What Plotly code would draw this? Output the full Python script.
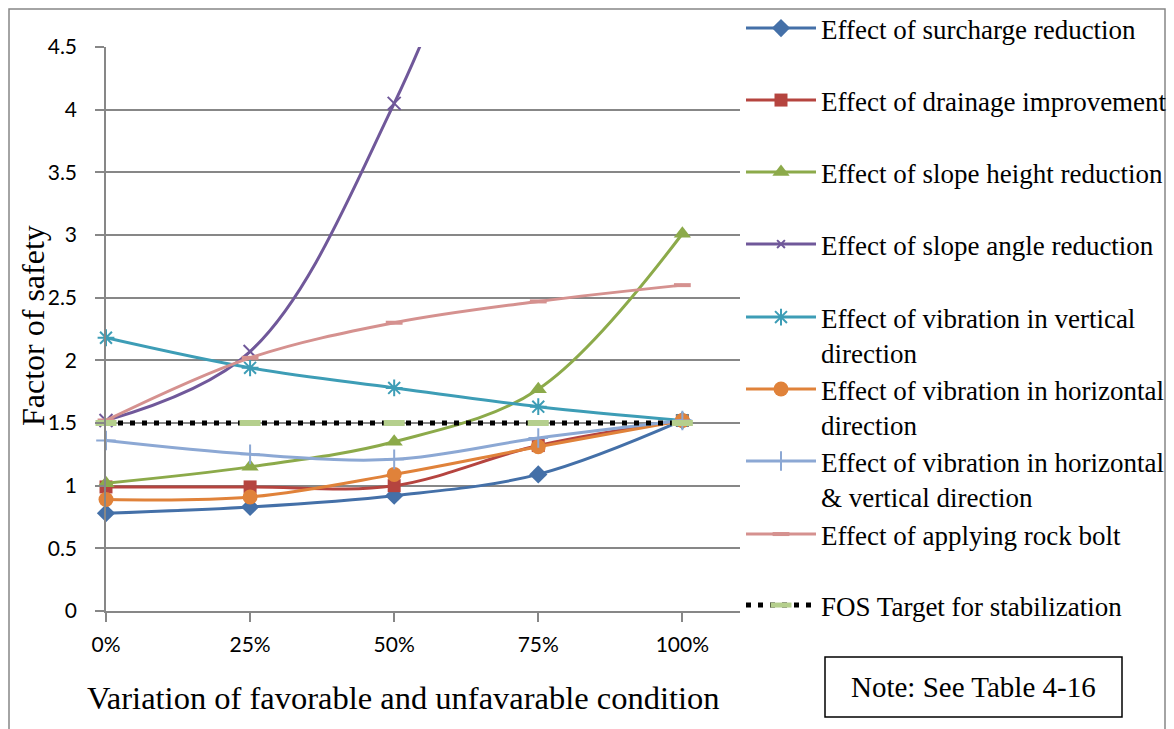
import plotly.graph_objects as go

# Variation levels (x) and factor of safety for each remedial measure
variation = [0, 25, 50, 75, 100]
variation_labels = ["0%", "25%", "50%", "75%", "100%"]

surcharge = [0.78, 0.83, 0.92, 1.09, 1.52]
drainage = [0.99, 0.99, 1.00, 1.32, 1.52]
slope_height = [1.02, 1.15, 1.35, 1.77, 3.01]
slope_angle = [1.52, 2.07, 4.05, 7.00, 10.00]
vib_vertical = [2.18, 1.94, 1.78, 1.63, 1.52]
vib_horizontal = [0.89, 0.91, 1.09, 1.31, 1.52]
vib_both = [1.36, 1.25, 1.21, 1.38, 1.52]
rock_bolt = [1.52, 2.02, 2.30, 2.47, 2.60]
fos_target = [1.5, 1.5, 1.5, 1.5, 1.5]

Y_MAX = 4.5
W, H = 1174, 729
L, R, T, B = 106, 740, 47, 611  # plot area edges in pixels

SERIF = "Liberation Serif, Times New Roman, serif"
SANS = "Lato, Carlito, Calibri, sans-serif"
GRID = "#878787"


def px_x(px):
    return (px - L) / (R - L)


def px_y(py):
    return (B - py) / (B - T)


series = [
    dict(name="Effect of surcharge reduction", y=surcharge, color="#4470A8",
         symbol="diamond", size=14),
    dict(name="Effect of drainage improvement", y=drainage, color="#B5443F",
         symbol="square", size=13),
    dict(name="Effect of slope height reduction", y=slope_height, color="#8CAA4A",
         symbol="triangle-up", size=15),
    dict(name="Effect of slope angle reduction", y=slope_angle, color="#70589A",
         symbol="x-thin-open", size=13, mline=2),
    dict(name="Effect of vibration in vertical<br>direction", y=vib_vertical,
         color="#3D9DB6", symbol="asterisk-open", size=14, mline=2),
    dict(name="Effect of vibration in horizontal<br>direction", y=vib_horizontal,
         color="#E0823A", symbol="circle", size=15),
    dict(name="Effect of vibration in horizontal<br>&amp; vertical direction",
         y=vib_both, color="#8CA8D4", symbol="cross-thin-open", size=14, mline=2),
    dict(name="Effect of applying rock bolt", y=rock_bolt, color="#D5918F",
         symbol="line-ew-open", size=12, mline=4),
]

legend_rows = [30, 102, 174, 246, 319, 391, 463, 536, 607]

fig = go.Figure()

for i, s in enumerate(series):
    # points above the axis maximum keep their line but drop the marker
    sizes = [s["size"] if v <= Y_MAX else 0 for v in s["y"]]
    marker = dict(symbol=s["symbol"], size=sizes, color=s["color"], opacity=1)
    if "mline" in s:
        marker["line"] = dict(color=s["color"], width=s["mline"])
    else:
        marker["line"] = dict(width=0)
    fig.add_trace(go.Scatter(
        x=variation, y=s["y"], name=s["name"], mode="lines+markers",
        line=dict(color=s["color"], width=3, shape="spline", smoothing=1),
        marker=marker, cliponaxis=False,
        legend="legend" if i == 0 else f"legend{i + 1}",
    ))

fig.add_trace(go.Scatter(
    x=variation, y=fos_target, name="FOS Target for stabilization",
    mode="lines+markers",
    line=dict(color="black", width=5, dash="5px,7px"),
    marker=dict(symbol="line-ew-open", size=15, color="#B5CF8D", opacity=1,
                line=dict(color="#B5CF8D", width=6)),
    cliponaxis=False, legend="legend9",
))

legend_common = dict(
    xref="container", yref="container", xanchor="left", yanchor="top",
    bgcolor="rgba(0,0,0,0)", borderwidth=0, itemwidth=70, valign="top",
    font=dict(family=SERIF, size=27, color="black"),
    itemclick=False, itemdoubleclick=False,
)
layout_legends = {}
for i, row in enumerate(legend_rows):
    key = "legend" if i == 0 else f"legend{i + 1}"
    layout_legends[key] = dict(legend_common, x=741 / W, y=1 - (row - 26) / H)

shapes = [
    # chart frame
    dict(type="rect", xref="paper", yref="paper",
         x0=px_x(9), x1=px_x(1165), y0=px_y(760), y1=px_y(9),
         line=dict(color=GRID, width=1.5), fillcolor="rgba(0,0,0,0)"),
    # note box
    dict(type="rect", xref="paper", yref="paper",
         x0=px_x(825), x1=px_x(1122), y0=px_y(717), y1=px_y(657),
         line=dict(color="black", width=1.5), fillcolor="white"),
]

annotations = [
    dict(text="Variation of favorable and unfavarable condition",
         xref="paper", yref="paper", x=px_x(403), y=px_y(698),
         xanchor="center", yanchor="middle", showarrow=False,
         font=dict(family=SERIF, size=32.5, color="black")),
    dict(text="Factor of safety", textangle=-90,
         xref="paper", yref="paper", x=px_x(33), y=px_y(326),
         xanchor="center", yanchor="middle", showarrow=False,
         font=dict(family=SERIF, size=32, color="black")),
    dict(text="Note: See Table 4-16",
         xref="paper", yref="paper", x=px_x(973.5), y=px_y(687),
         xanchor="center", yanchor="middle", showarrow=False,
         font=dict(family=SERIF, size=29, color="black")),
]

fig.update_layout(
    width=W, height=H,
    margin=dict(l=L, r=W - R, t=T, b=H - B, pad=0, autoexpand=False),
    paper_bgcolor="white", plot_bgcolor="white",
    showlegend=True,
    shapes=shapes, annotations=annotations,
    xaxis=dict(
        range=[0, 110], tickvals=variation, ticktext=variation_labels,
        showgrid=False, zeroline=False, showline=True, linecolor=GRID,
        linewidth=1.5, ticks="outside", ticklen=9, tickwidth=1.5,
        tickcolor=GRID, ticklabelstandoff=5, automargin=False,
        tickfont=dict(family=SANS, size=21, color="black"),
    ),
    yaxis=dict(
        range=[0, Y_MAX], dtick=0.5, tick0=0,
        showgrid=True, gridcolor=GRID, gridwidth=1.5,
        zeroline=False, showline=True, linecolor=GRID, linewidth=1.5,
        ticks="outside", ticklen=9, tickwidth=1.5, tickcolor=GRID,
        ticklabelstandoff=14, automargin=False,
        tickfont=dict(family=SANS, size=21, color="black"),
    ),
    **layout_legends,
)

fig.write_html("out.html")
